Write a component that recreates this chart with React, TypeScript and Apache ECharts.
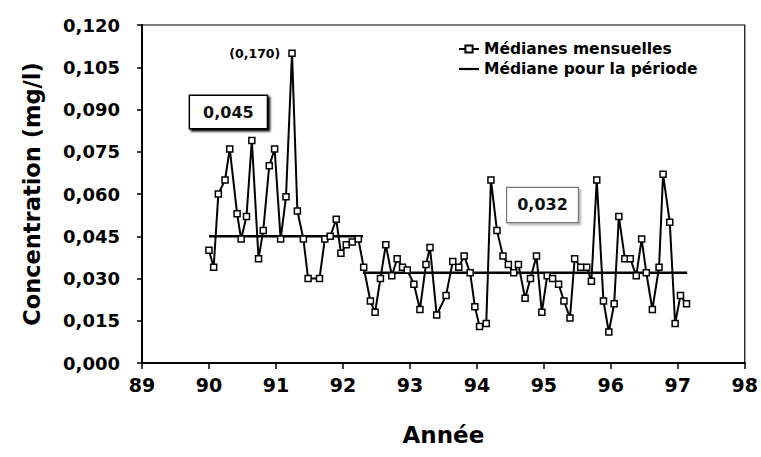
import React, { useEffect, useRef } from "react";
import * as echarts from "echarts";

// Monthly medians (decimal year, concentration mg/l)
const years = [
  90.0, 90.07, 90.14, 90.24, 90.31, 90.42, 90.48, 90.56, 90.64, 90.74,
  90.81, 90.9, 90.98, 91.07, 91.15, 91.24, 91.32, 91.41, 91.48, 91.65,
  91.73, 91.81, 91.9, 91.97, 92.05, 92.14, 92.23, 92.31, 92.41, 92.48,
  92.56, 92.64, 92.73, 92.81, 92.89, 92.96, 93.06, 93.15, 93.24, 93.3,
  93.4, 93.54, 93.64, 93.73, 93.81, 93.9, 93.97, 94.04, 94.14, 94.21,
  94.3, 94.39, 94.47, 94.55, 94.62, 94.72, 94.8, 94.89, 94.97, 95.05,
  95.13, 95.22, 95.3, 95.39, 95.46, 95.55, 95.64, 95.71, 95.79, 95.89,
  95.97, 96.05, 96.12, 96.21, 96.29, 96.38, 96.46, 96.53, 96.62, 96.72,
  96.78, 96.88, 96.96, 97.04, 97.13,
];
const monthlyMedians = [
  0.04, 0.034, 0.06, 0.065, 0.076, 0.053, 0.044, 0.052, 0.079, 0.037,
  0.047, 0.07, 0.076, 0.044, 0.059, 0.11, 0.054, 0.044, 0.03, 0.03,
  0.044, 0.045, 0.051, 0.039, 0.042, 0.043, 0.044, 0.034, 0.022, 0.018,
  0.03, 0.042, 0.031, 0.037, 0.034, 0.033, 0.028, 0.019, 0.035, 0.041,
  0.017, 0.024, 0.036, 0.034, 0.038, 0.032, 0.02, 0.013, 0.014, 0.065,
  0.047, 0.038, 0.035, 0.032, 0.035, 0.023, 0.03, 0.038, 0.018, 0.031,
  0.03, 0.028, 0.022, 0.016, 0.037, 0.034, 0.034, 0.029, 0.065, 0.022,
  0.011, 0.021, 0.052, 0.037, 0.037, 0.031, 0.044, 0.032, 0.019, 0.034,
  0.067, 0.05, 0.014, 0.024, 0.021,
];
// The off-scale peak, drawn clipped, carries its real value as a label
const peakLabel = "(0,170)";

// Period medians
const periodMedians = [0.045, 0.032];
const periodStarts = [90.0, 92.3];
const periodEnds = [92.3, 97.14];

const seriesNames = ["Médianes mensuelles", "Médiane pour la période"];
const axisTitles = { x: "Année", y: "Concentration (mg/l)" };

const FONT = "DejaVu Sans";
const fmt3 = (v: number) => v.toFixed(3).replace(".", ",");

export default function App() {
  const ref = useRef<HTMLDivElement>(null);

  useEffect(() => {
    if (!ref.current) return;
    const chart = echarts.init(ref.current, null, { renderer: "svg" });

    const peakIdx = monthlyMedians.indexOf(Math.max(...monthlyMedians));
    const monthlyData = years.map((x, i) =>
      i === peakIdx
        ? {
            value: [x, monthlyMedians[i]],
            label: {
              show: true,
              position: "left",
              distance: 8,
              formatter: peakLabel,
              fontFamily: FONT,
              fontWeight: "bold",
              fontSize: 12.5,
              color: "#000",
            },
          }
        : { value: [x, monthlyMedians[i]] }
    );

    const medianData: any[] = [];
    periodMedians.forEach((m, i) => {
      if (i > 0) medianData.push([periodStarts[i], "-"]);
      medianData.push([periodStarts[i], m]);
      medianData.push([periodEnds[i], m]);
    });

    const boxLabel = (v: number, variant: number) => ({
      show: true,
      position: "inside",
      formatter: fmt3(v),
      fontFamily: FONT,
      fontWeight: "bold",
      fontSize: 16,
      color: "#111",
      backgroundColor: "#fff",
      borderColor: variant === 0 ? "#000" : "#777",
      borderWidth: variant === 0 ? 1.5 : 1.2,
      padding: variant === 0 ? [8, 13] : [9, 10],
      shadowColor: variant === 0 ? "transparent" : "rgba(0,0,0,0.3)",
      shadowOffsetX: 2,
      shadowOffsetY: 2,
      shadowBlur: 2,
    });

    const option: any = {
      animation: false,
      backgroundColor: "#fff",
      grid: {
        left: 142,
        right: 14,
        top: 25,
        bottom: 94,
        show: true,
        borderColor: "#000",
        borderWidth: 1.2,
        backgroundColor: "transparent",
      },
      legend: {
        orient: "vertical",
        left: 453,
        top: 36,
        itemWidth: 20,
        itemHeight: 9,
        itemGap: 4,
        textStyle: {
          fontFamily: FONT,
          fontWeight: "bold",
          fontSize: 15.5,
          color: "#000",
        },
        data: [
          { name: seriesNames[0] },
          { name: seriesNames[1], icon: "path://M0 0H20V2.2H0Z" },
        ],
      },
      xAxis: {
        type: "value",
        min: 89,
        max: 98,
        interval: 1,
        name: axisTitles.x,
        nameLocation: "middle",
        nameGap: 60,
        nameTextStyle: {
          fontFamily: FONT,
          fontWeight: "bold",
          fontSize: 23,
          color: "#000",
        },
        axisLine: { show: true, lineStyle: { color: "#000", width: 2 } },
        axisTick: { show: true, inside: false, length: 6, lineStyle: { color: "#000", width: 1.5 } },
        axisLabel: {
          margin: 12,
          fontFamily: FONT,
          fontWeight: "bold",
          fontSize: 19,
          color: "#000",
          formatter: (v: number) => String(v),
        },
        splitLine: { show: false },
      },
      yAxis: {
        type: "value",
        min: 0,
        max: 0.12,
        interval: 0.015,
        name: axisTitles.y,
        nameLocation: "middle",
        nameRotate: 90,
        nameGap: 99,
        nameTextStyle: {
          fontFamily: FONT,
          fontWeight: "bold",
          fontSize: 22.5,
          color: "#000",
        },
        axisLine: { show: true, lineStyle: { color: "#000", width: 2 } },
        axisTick: { show: true, inside: false, length: 5, lineStyle: { color: "#000", width: 1.5 } },
        axisLabel: {
          margin: 22,
          fontFamily: FONT,
          fontWeight: "bold",
          fontSize: 18,
          color: "#000",
          formatter: (v: number) => fmt3(v),
        },
        splitLine: { show: false },
      },
      series: [
        {
          name: seriesNames[0],
          type: "line",
          data: monthlyData,
          symbol: "rect",
          symbolSize: 6,
          showAllSymbol: true,
          lineStyle: { color: "#000", width: 2 },
          itemStyle: { color: "#fff", borderColor: "#000", borderWidth: 1.5 },
          z: 3,
        },
        {
          name: seriesNames[1],
          type: "line",
          data: medianData,
          symbol: "none",
          connectNulls: false,
          lineStyle: { color: "#000", width: 2.5 },
          itemStyle: { color: "#000" },
          z: 2,
          markPoint: {
            symbol: "rect",
            symbolSize: 0,
            data: [
              { coord: [90.29, 0.0891], label: boxLabel(periodMedians[0], 0) },
              { coord: [94.98, 0.0561], label: boxLabel(periodMedians[1], 1) },
            ],
          },
        },
      ],
    };

    chart.setOption(option);
    return () => chart.dispose();
  }, []);

  return (
    <div
      ref={ref}
      style={{ position: "fixed", left: 0, top: 0, width: 761, height: 457, background: "#fff" }}
    />
  );
}
